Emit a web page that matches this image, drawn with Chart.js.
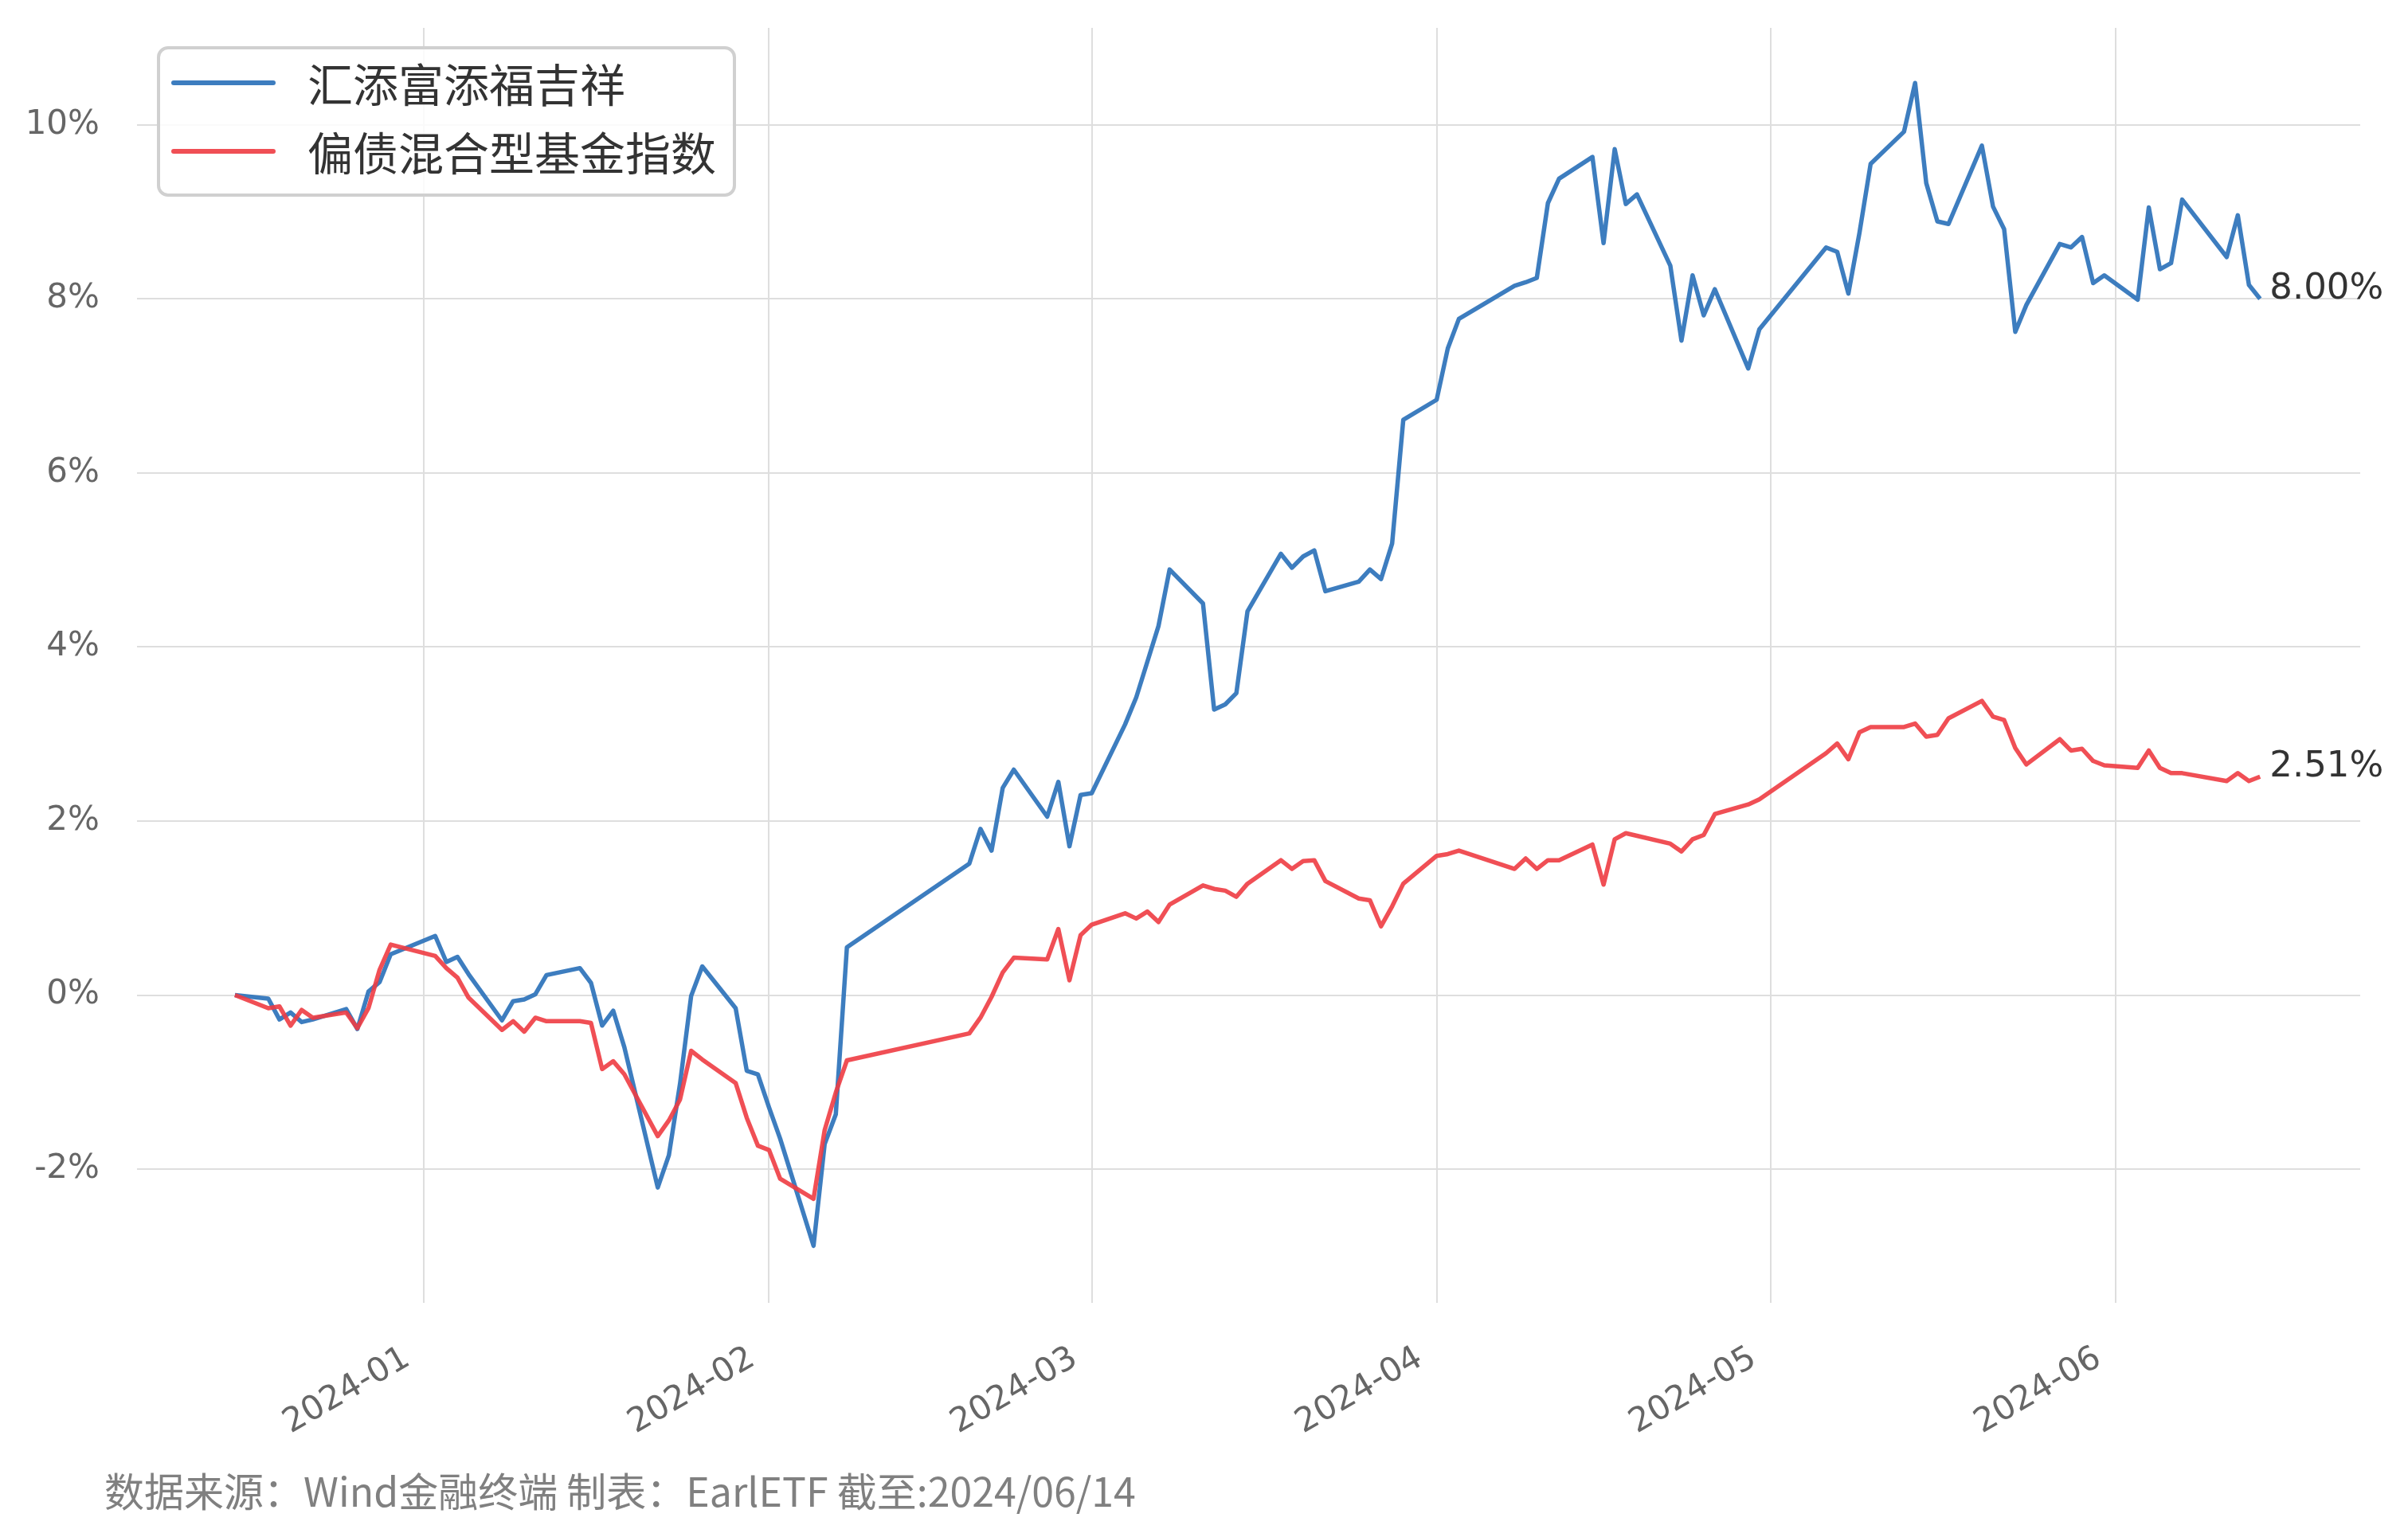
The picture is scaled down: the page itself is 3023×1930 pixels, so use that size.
<!DOCTYPE html>
<html>
<head>
<meta charset="utf-8">
<script src="https://cdn.jsdelivr.net/npm/chart.js@4.4.1/dist/chart.umd.min.js"></script>
<style>
  html, body { margin: 0; padding: 0; background: #ffffff; }
  #wrap { width: 3023px; height: 1930px; }
</style>
</head>
<body>
<div id="wrap"><canvas id="c" width="3023" height="1930"></canvas></div>
<script>
// ---------------- data ----------------
const seriesNames = ['汇添富添福吉祥', '偏债混合型基金指数'];

const dates = [
  '2023-12-15','2023-12-18','2023-12-19','2023-12-20','2023-12-21','2023-12-22','2023-12-25','2023-12-26','2023-12-27','2023-12-28','2023-12-29',
  '2024-01-02','2024-01-03','2024-01-04','2024-01-05','2024-01-08','2024-01-09','2024-01-10','2024-01-11','2024-01-12',
  '2024-01-15','2024-01-16','2024-01-17','2024-01-18','2024-01-19','2024-01-22','2024-01-23','2024-01-24','2024-01-25','2024-01-26',
  '2024-01-29','2024-01-30','2024-01-31',
  '2024-02-01','2024-02-02','2024-02-05','2024-02-06','2024-02-07','2024-02-08','2024-02-19','2024-02-20','2024-02-21','2024-02-22','2024-02-23',
  '2024-02-26','2024-02-27','2024-02-28','2024-02-29',
  '2024-03-01','2024-03-04','2024-03-05','2024-03-06','2024-03-07','2024-03-08','2024-03-11','2024-03-12','2024-03-13','2024-03-14','2024-03-15',
  '2024-03-18','2024-03-19','2024-03-20','2024-03-21','2024-03-22','2024-03-25','2024-03-26','2024-03-27','2024-03-28','2024-03-29',
  '2024-04-01','2024-04-02','2024-04-03','2024-04-08','2024-04-09','2024-04-10','2024-04-11','2024-04-12','2024-04-15','2024-04-16',
  '2024-04-17','2024-04-18','2024-04-19','2024-04-22','2024-04-23','2024-04-24','2024-04-25','2024-04-26','2024-04-29','2024-04-30',
  '2024-05-06','2024-05-07','2024-05-08','2024-05-09','2024-05-10','2024-05-13','2024-05-14','2024-05-15','2024-05-16','2024-05-17',
  '2024-05-20','2024-05-21','2024-05-22','2024-05-23','2024-05-24','2024-05-27','2024-05-28','2024-05-29','2024-05-30','2024-05-31',
  '2024-06-03','2024-06-04','2024-06-05','2024-06-06','2024-06-07','2024-06-11','2024-06-12','2024-06-13','2024-06-14'
];

// 汇添富添福吉祥 cumulative return (%)
const fundValues = [
  0.00, -0.04, -0.28, -0.20, -0.31, -0.28, -0.16, -0.39, 0.04, 0.15, 0.47,
  0.68, 0.38, 0.44, 0.24, -0.29, -0.07, -0.05, 0.01, 0.23,
  0.31, 0.14, -0.35, -0.18, -0.60, -2.21, -1.84, -1.02, -0.01, 0.33,
  -0.15, -0.87, -0.91,
  -1.29, -1.65, -2.88, -1.71, -1.37, 0.55, 1.51, 1.91, 1.66, 2.38, 2.59,
  2.05, 2.45, 1.71, 2.30,
  2.32, 3.11, 3.42, 3.83, 4.24, 4.89, 4.50, 3.28, 3.34, 3.47, 4.41,
  5.07, 4.91, 5.04, 5.11, 4.64, 4.75, 4.89, 4.78, 5.19, 6.61,
  6.84, 7.43, 7.77, 8.15, 8.19, 8.24, 9.10, 9.38, 9.63, 8.64,
  9.72, 9.09, 9.20, 8.38, 7.52, 8.27, 7.81, 8.11, 7.20, 7.65,
  8.59, 8.54, 8.06, 8.76, 9.55, 9.92, 10.48, 9.33, 8.89, 8.86,
  9.76, 9.06, 8.80, 7.62, 7.93, 8.63, 8.59, 8.71, 8.18, 8.27,
  7.99, 9.05, 8.34, 8.41, 9.14, 8.48, 8.96, 8.16, 8.00
];

// 偏债混合型基金指数 cumulative return (%)
const indexValues = [
  0.00, -0.15, -0.13, -0.35, -0.17, -0.26, -0.20, -0.38, -0.15, 0.29, 0.58,
  0.45, 0.31, 0.20, -0.03, -0.40, -0.30, -0.42, -0.26, -0.30,
  -0.30, -0.32, -0.85, -0.76, -0.91, -1.62, -1.44, -1.20, -0.64, -0.74,
  -1.01, -1.41, -1.73,
  -1.78, -2.11, -2.34, -1.55, -1.12, -0.75, -0.44, -0.26, -0.02, 0.26, 0.43,
  0.41, 0.76, 0.17, 0.69,
  0.81, 0.94, 0.88, 0.96, 0.84, 1.04, 1.26, 1.22, 1.20, 1.13, 1.28,
  1.55, 1.45, 1.54, 1.55, 1.31, 1.11, 1.09, 0.79, 1.02, 1.28,
  1.60, 1.62, 1.66, 1.45, 1.57, 1.45, 1.55, 1.55, 1.73, 1.27,
  1.79, 1.86, 1.83, 1.74, 1.65, 1.79, 1.84, 2.08, 2.19, 2.25,
  2.78, 2.89, 2.71, 3.02, 3.08, 3.08, 3.12, 2.97, 2.99, 3.18,
  3.38, 3.20, 3.16, 2.84, 2.65, 2.94, 2.81, 2.83, 2.69, 2.64,
  2.61, 2.81, 2.61, 2.55, 2.55, 2.46, 2.55, 2.46, 2.51
];

const xTickLabels = ['2024-01', '2024-02', '2024-03', '2024-04', '2024-05', '2024-06'];
const yTicks = [-2, 0, 2, 4, 6, 8, 10];
const footerText = '数据来源：Wind金融终端 制表：EarlETF 截至:2024/06/14';

// ---------------- helpers ----------------
const DAY_MS = 86400000;
const ORIGIN = Date.UTC(2024, 0, 1);
function dayNum(s) {
  const p = s.split('-').map(Number);
  return (Date.UTC(p[0], p[1] - 1, p[2] || 1) - ORIGIN) / DAY_MS;
}
function pct(v) { return v + '%'; }

const BLUE = 'rgba(44,114,186,0.92)';
const RED = 'rgba(238,60,66,0.9)';
const TICK_FONT = { family: 'DejaVu Sans', size: 42 };

const fundPoints = dates.map((d, i) => ({ x: dayNum(d), y: fundValues[i] }));
const indexPoints = dates.map((d, i) => ({ x: dayNum(d), y: indexValues[i] }));

const decor = {
  id: 'decor',
  afterDatasetsDraw(chart) {
    const ctx = chart.ctx;
    const xs = chart.scales.x, ys = chart.scales.y;
    const n = dates.length - 1;
    const lx = xs.getPixelForValue(dayNum(dates[n])) + 12;
    ctx.save();
    ctx.font = '45px "DejaVu Sans"';
    ctx.fillStyle = '#333333';
    ctx.textAlign = 'left';
    ctx.textBaseline = 'alphabetic';
    ctx.fillText(fundValues[n].toFixed(2) + '%', lx, ys.getPixelForValue(fundValues[n]));
    ctx.fillText(indexValues[n].toFixed(2) + '%', lx, ys.getPixelForValue(indexValues[n]));
    ctx.restore();
  },
  afterDraw(chart) {
    const ctx = chart.ctx;
    ctx.save();
    // legend box
    const bx = 199, by = 60, bw = 723, bh = 185, r = 12;
    ctx.beginPath();
    ctx.moveTo(bx + r, by);
    ctx.arcTo(bx + bw, by, bx + bw, by + bh, r);
    ctx.arcTo(bx + bw, by + bh, bx, by + bh, r);
    ctx.arcTo(bx, by + bh, bx, by, r);
    ctx.arcTo(bx, by, bx + bw, by, r);
    ctx.closePath();
    ctx.fillStyle = 'rgba(255,255,255,0.85)';
    ctx.fill();
    ctx.lineWidth = 4;
    ctx.strokeStyle = '#d0d0d0';
    ctx.stroke();
    const rows = [{ y: 104, c: BLUE, t: seriesNames[0] }, { y: 190, c: RED, t: seriesNames[1] }];
    rows.forEach(rw => {
      ctx.beginPath();
      ctx.moveTo(218, rw.y);
      ctx.lineTo(343, rw.y);
      ctx.lineWidth = 6;
      ctx.lineCap = 'round';
      ctx.strokeStyle = rw.c;
      ctx.stroke();
      ctx.font = '57px "Noto Sans CJK SC"';
      ctx.fillStyle = '#333333';
      ctx.textAlign = 'left';
      ctx.textBaseline = 'middle';
      ctx.fillText(rw.t, 386, rw.y + 2);
    });
    // footer
    ctx.font = '50px "Noto Sans CJK SC"';
    ctx.fillStyle = '#808080';
    ctx.textAlign = 'left';
    ctx.textBaseline = 'middle';
    ctx.fillText(footerText, 131, 1873);
    ctx.restore();
  }
};

new Chart(document.getElementById('c'), {
  type: 'line',
  data: {
    datasets: [
      { label: seriesNames[0], data: fundPoints, borderColor: BLUE, backgroundColor: BLUE,
        borderWidth: 5.5, pointRadius: 0, tension: 0, borderJoinStyle: 'round', order: 1 },
      { label: seriesNames[1], data: indexPoints, borderColor: RED, backgroundColor: RED,
        borderWidth: 5.5, pointRadius: 0, tension: 0, borderJoinStyle: 'round', order: 0 }
    ]
  },
  options: {
    responsive: false,
    animation: false,
    devicePixelRatio: 1,
    layout: { padding: { top: 35, right: 60, bottom: 0, left: 0 } },
    plugins: { legend: { display: false }, tooltip: { enabled: false } },
    scales: {
      x: {
        type: 'linear',
        min: -25.8,
        max: 174.0,
        afterBuildTicks: s => { s.ticks = xTickLabels.map(l => ({ value: dayNum(l + '-01') })); },
        afterFit: s => { s.height = 294; s.paddingLeft = 0; s.paddingRight = 0; },
        grid: { color: '#dedede', lineWidth: 2, drawTicks: false },
        border: { display: false },
        ticks: {
          autoSkip: false,
          minRotation: 30,
          maxRotation: 30,
          padding: 45,
          labelOffset: -21,
          color: '#666666',
          font: TICK_FONT,
          callback: (v, i) => xTickLabels[i]
        }
      },
      y: {
        type: 'linear',
        min: -3.536,
        max: 11.113,
        afterBuildTicks: s => { s.ticks = yTicks.map(v => ({ value: v })); },
        afterFit: s => { s.width = 172; s.paddingTop = 0; s.paddingBottom = 0; },
        grid: { color: '#dedede', lineWidth: 2, drawTicks: false },
        border: { display: false },
        ticks: {
          padding: 47,
          color: '#666666',
          font: TICK_FONT,
          callback: v => pct(v)
        }
      }
    }
  },
  plugins: [decor]
});
</script>
</body>
</html>
